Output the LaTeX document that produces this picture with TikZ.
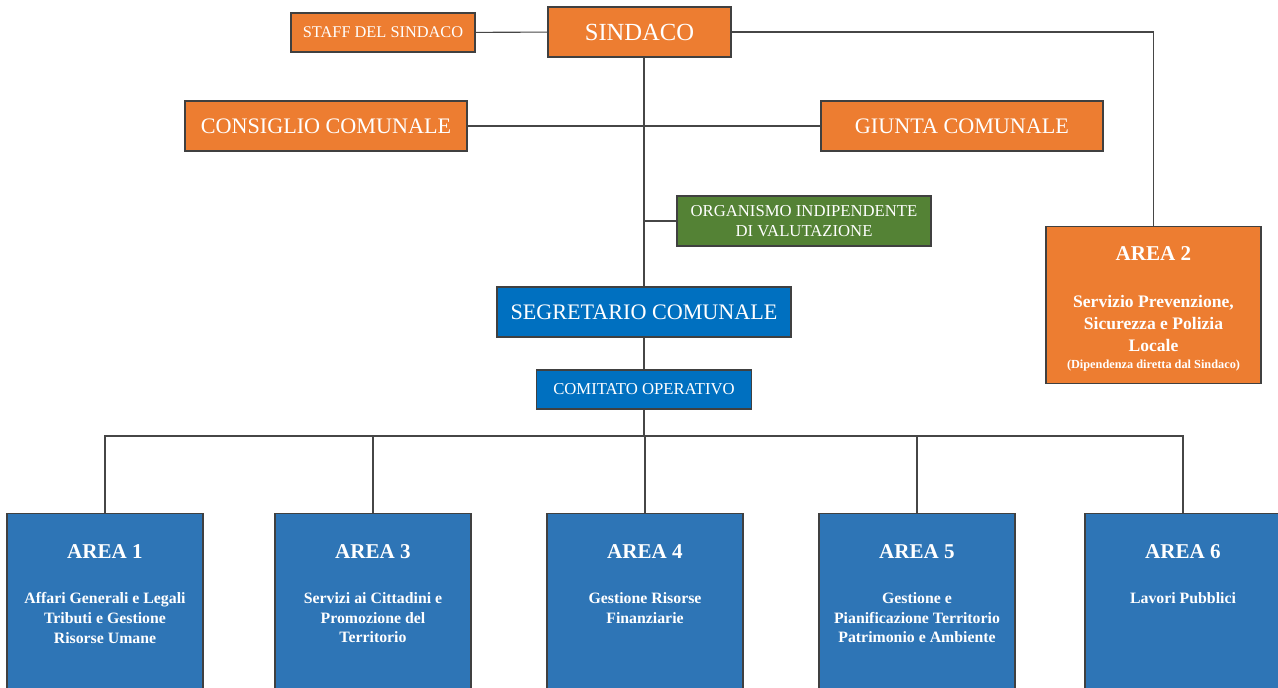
\documentclass[tikz,border=0pt]{standalone}
\usepackage{fontspec}
\setmainfont{Liberation Serif}
\usepackage{tikz}
\usetikzlibrary{positioning, calc}
\usepackage{xcolor}
\definecolor{orgorange}{RGB}{237,125,49}
\definecolor{orggreen}{RGB}{84,130,53}
\definecolor{segblue}{RGB}{0,112,192}
\definecolor{areablue}{RGB}{46,117,182}
\definecolor{linkgray}{RGB}{70,70,70}

\begin{document}
\begin{tikzpicture}[x=0.02cm, y=-0.02cm,
    box/.style={rectangle, draw=black!75, line width=0.7pt, text=white, align=center, inner sep=0pt},
    orgbox/.style={box, fill=orgorange},
    bluebox/.style={box, fill=segblue},
    areabox/.style={box, fill=areablue, minimum width=3.92cm, minimum height=4cm, anchor=north},
    areahead/.style={text=white, font=\fontsize{12}{14}\selectfont\bfseries},
    areatext/.style={text=white, align=center, anchor=north, font=\fontsize{9}{11.3}\selectfont\bfseries},
    link/.style={draw=linkgray, line width=0.6pt}
]
\useasboundingbox (0,0) rectangle (1278,688);

% vertici
\node[orgbox, minimum width=3.66cm, minimum height=1cm, font=\fontsize{14}{16}\selectfont] (sindaco) at (639.5,32) {SINDACO};
\node[orgbox, minimum width=3.68cm, minimum height=0.78cm, font=\fontsize{9.3}{11}\selectfont] (staff) at (383,32.5) {STAFF DEL SINDACO};
\node[orgbox, minimum width=5.64cm, minimum height=1cm, font=\fontsize{12.6}{15}\selectfont] (consiglio) at (326,126) {CONSIGLIO COMUNALE};
\node[orgbox, minimum width=5.64cm, minimum height=1cm, font=\fontsize{12.6}{15}\selectfont] (giunta) at (962,126) {GIUNTA COMUNALE};
\node[box, fill=orggreen, minimum width=5.08cm, minimum height=1cm, font=\fontsize{9.5}{11}\selectfont] (oiv) at (804,221) {ORGANISMO INDIPENDENTE\\DI VALUTAZIONE};
\node[bluebox, minimum width=5.88cm, minimum height=1cm, font=\fontsize{12.6}{15}\selectfont] (segretario) at (644,312) {SEGRETARIO COMUNALE};
\node[bluebox, minimum width=4.3cm, minimum height=0.78cm, font=\fontsize{9.5}{11}\selectfont] (comitato) at (644,389.5) {COMITATO OPERATIVO};

% area 2
\node[orgbox, minimum width=4.3cm, minimum height=3.14cm, anchor=north] (area2) at (1153.5,226) {};
\node[areahead] (area2h) at (1153.5,254) {AREA 2};
\node[areatext, font=\fontsize{10}{12.5}\selectfont\bfseries] (area2t) at (1153.5,289)
  {Servizio Prevenzione,\\Sicurezza e Polizia\\Locale\\[-3pt]{\fontsize{7}{8}\selectfont(Dipendenza diretta dal Sindaco)}};

% aree
\node[areabox] (a1) at (105,513) {};
\node[areabox] (a3) at (373,513) {};
\node[areabox] (a4) at (645,513) {};
\node[areabox] (a5) at (917,513) {};
\node[areabox] (a6) at (1183,513) {};
\node[areahead] (a1h) at (105,552) {AREA 1};
\node[areahead] (a3h) at (373,552) {AREA 3};
\node[areahead] (a4h) at (645,552) {AREA 4};
\node[areahead] (a5h) at (917,552) {AREA 5};
\node[areahead] (a6h) at (1183,552) {AREA 6};
\node[areatext] (a1t) at (105,586) {Affari Generali e Legali\\Tributi e Gestione\\Risorse Umane};
\node[areatext] (a3t) at (373,586) {Servizi ai Cittadini e\\Promozione del\\Territorio};
\node[areatext] (a4t) at (645,586) {Gestione Risorse\\Finanziarie};
\node[areatext] (a5t) at (917,586) {Gestione e\\Pianificazione Territorio\\Patrimonio e Ambiente};
\node[areatext] (a6t) at (1183,586) {Lavori Pubblici};

% collegamenti
\coordinate (bus) at (644,436);
\draw[link] (staff) -- (sindaco);
\draw[link] (sindaco.east) -| (area2.north);
\draw[link] (consiglio) -- (giunta);
\draw[link] (segretario.north) -- (segretario.north |- sindaco.south);
\draw[link] (oiv.west) -- (oiv.west -| segretario.north);
\draw[link] (segretario) -- (comitato);
\draw[link] (comitato.south) -- (bus);
\draw[link] (a1.north) |- (bus) -| (a6.north);
\draw[link] (a3.north) -- (a3.north |- bus);
\draw[link] (a4.north) -- (a4.north |- bus);
\draw[link] (a5.north) -- (a5.north |- bus);
\end{tikzpicture}
\end{document}
